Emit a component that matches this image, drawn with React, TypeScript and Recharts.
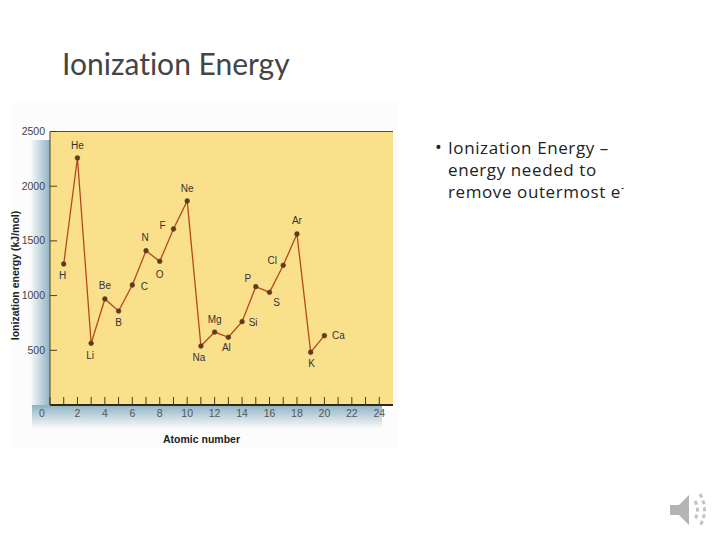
import React from "react";
import { ComposedChart, Line, XAxis, YAxis, ReferenceArea, ReferenceLine, LabelList } from "recharts";

const atomicNumbers = [1,2,3,4,5,6,7,8,9,10,11,12,13,14,15,16,17,18,19,20];
const symbols = ["H","He","Li","Be","B","C","N","O","F","Ne","Na","Mg","Al","Si","P","S","Cl","Ar","K","Ca"];
const ionizationEnergy = [1289,2258,564,969,859,1097,1410,1313,1609,1865,539,667,619,762,1082,1030,1277,1563,482,634];
const xTicks = [0,1,2,3,4,5,6,7,8,9,10,11,12,13,14,15,16,17,18,19,20,21,22,23,24];
const yTicks = [500,1000,1500,2000,2500];

const labelDx = [-1,0,-1,0,0,12,-1,0,-11,0,-2,0,-2,11,-8,7,-11,0,1,14];
const labelDy = [12,-12,12,-13,11,2,-13,13,-3,-12,11,-13,10,1,-8,10,-5,-14,11,0];

const data = atomicNumbers.map((z, i) => ({ z, energy: ionizationEnergy[i], symbol: symbols[i] }));
const SANS = "'Liberation Sans', Arial, sans-serif";

const XTick = (p: any) => {
  const v = p.payload.value;
  return (
    <g>
      <line x1={p.x} x2={p.x} y1={p.y - 8} y2={p.y} stroke="#4a3a20" strokeWidth={1} />
      {v % 2 === 0 && (
        <text x={v === 0 ? p.x - 8 : p.x} y={p.y + 12} textAnchor="middle" fontSize={10.5} fontFamily={SANS} fill="#555">{v}</text>
      )}
    </g>
  );
};

const YTick = (p: any) => (
  <g>
    <line x1={p.x} x2={p.x + 7} y1={p.y} y2={p.y} stroke="#4a3a20" strokeWidth={1} />
    <text x={p.x - 5} y={p.y + 3.5} textAnchor="end" fontSize={10.5} fontFamily={SANS} fill="#444">{p.payload.value}</text>
  </g>
);

const PointLabel = (p: any) => {
  const i = p.index;
  return (
    <text x={p.x + labelDx[i]} y={p.y + labelDy[i] + 3.5} textAnchor="middle" fontSize={10} fontFamily={SANS} fill="#333">
      {symbols[i]}
    </text>
  );
};

const box = (s: React.CSSProperties): React.CSSProperties => ({ position: "absolute", ...s });

export default function App() {
  return (
    <div style={box({ left: 0, top: 0, width: 720, height: 540, background: "#fff", overflow: "hidden" })}>
      <div style={box({ left: 12, top: 102, width: 386, height: 346, background: "#fdfcfc" })} />
      <div style={box({ left: 30, top: 140, width: 20, height: 268, background: "linear-gradient(to right, rgba(140,180,196,0), #8fb3c3)" })} />
      <div style={box({ left: 32, top: 405, width: 350, height: 24, background: "linear-gradient(to bottom, #8fb3c3, rgba(160,195,210,0))" })} />

      <div style={box({ left: 0, top: 0 })}>
        <ComposedChart width={720} height={540} data={data} margin={{ top: 131.5, right: 327, left: 0, bottom: 0 }}>
          <ReferenceArea x1={0} x2={25} y1={0} y2={2500} fill="#fbe08c" fillOpacity={1} stroke="none" />
          <ReferenceLine y={2500} stroke="#5a5030" strokeWidth={1} />
          <XAxis
            dataKey="z" type="number" domain={[0, 25]} ticks={xTicks} interval={0} height={135}
            tick={XTick} tickLine={false} tickSize={0} tickMargin={0}
            axisLine={{ stroke: "#2e2a18", strokeWidth: 2 }}
            label={{ value: "Atomic number", position: "insideTop", offset: 31, dx: -20, fontSize: 10.5, fontWeight: 700, fontFamily: SANS, fill: "#222" }}
          />
          <YAxis
            type="number" domain={[0, 2500]} ticks={yTicks} interval={0} width={50}
            tick={YTick} tickLine={false} tickSize={0} tickMargin={0}
            axisLine={{ stroke: "#4a4428", strokeWidth: 1 }}
            label={{ value: "Ionization energy (kJ/mol)", angle: -90, position: "insideLeft", offset: 15, dy: 72, fontSize: 10.5, fontWeight: 700, fontFamily: SANS, fill: "#222" }}
          />
          <Line
            dataKey="energy" type="linear" stroke="#b4481c" strokeWidth={1.3} isAnimationActive={false}
            dot={{ r: 2.4, fill: "#5c3a1c", stroke: "#5c3a1c", strokeWidth: 0.5 }} activeDot={false}
          >
            <LabelList dataKey="symbol" content={PointLabel} />
          </Line>
        </ComposedChart>
      </div>

      <div style={box({ left: 62, top: 42, fontFamily: "Lato, sans-serif", fontSize: 30, color: "#444", whiteSpace: "nowrap", lineHeight: "42px", fontVariantLigatures: "none" })}>Ionization Energy</div>
      <div style={box({ left: 435, top: 137, fontFamily: "'Open Sans', sans-serif", fontSize: 18, color: "#222", lineHeight: "20px" })}>•</div>
      <div style={box({ left: 448, top: 136.5, fontFamily: "'Open Sans', sans-serif", fontSize: 17, letterSpacing: 0.6, color: "#222", lineHeight: "22px", whiteSpace: "nowrap" })}>
        <div>Ionization Energy –</div>
        <div>energy needed to</div>
        <div>remove outermost e<sup style={{ fontSize: 10, lineHeight: 0 }}>-</sup></div>
      </div>

      <svg style={box({ left: 664, top: 488 })} width={52} height={44} viewBox="0 0 52 44">
        <polygon points="6,17 15,17 25,7 25,37 15,27 6,27" fill="#b4b4b4" />
        <g fill="none" stroke="#c4c4c4" strokeWidth={3} strokeDasharray="4 3">
          <path d="M31,13 Q36,22 31,31" />
          <path d="M36,6 Q45,22 36,38" />
        </g>
      </svg>
    </div>
  );
}
